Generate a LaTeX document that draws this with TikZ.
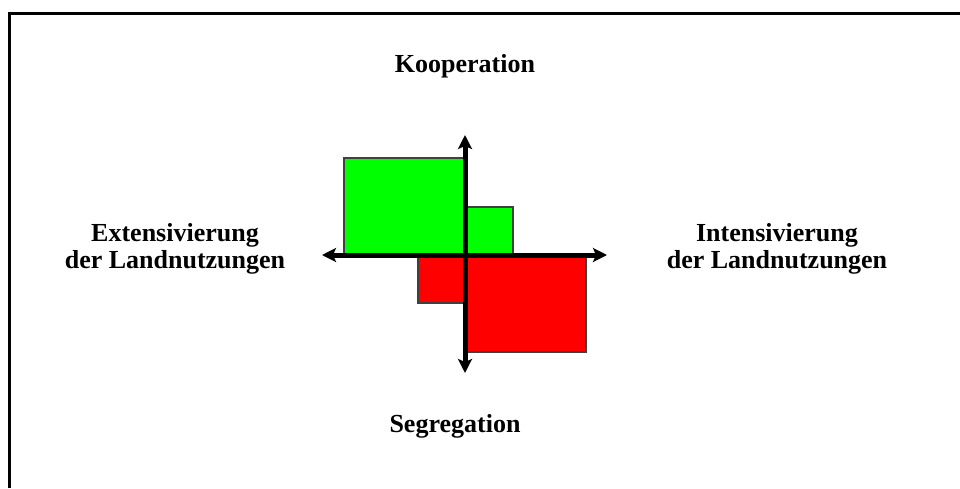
\documentclass[tikz,border=0pt]{standalone}
\usepackage{fontspec}
\setmainfont{Liberation Serif}
\usetikzlibrary{arrows.meta}
\definecolor{feldgruen}{RGB}{0,255,0}
\definecolor{feldrot}{RGB}{255,0,0}
\begin{document}
\begin{tikzpicture}[x=1pt,y=-1pt,
    achse/.style={line width=5pt,{Stealth[length=14pt,width=14pt,inset=3pt]}-{Stealth[length=14pt,width=14pt,inset=3pt]}},
    feld/.style={draw=black!75,line width=1.2pt},
    beschriftung/.style={font=\fontsize{26}{27}\selectfont\bfseries,inner sep=0pt,align=center}]
    \useasboundingbox (0,0) rectangle (960,488);
    % Rahmen (nur oben und links sichtbar)
    \draw[line width=3pt] (9,488)--(9,13)--(960,13);

    % Felder
    \filldraw[feld,fill=feldgruen] (344,158) rectangle (465,255);
    \filldraw[feld,fill=feldgruen] (465,207) rectangle (513,255);
    \filldraw[feld,fill=feldrot] (418,255) rectangle (465,303);
    \filldraw[feld,fill=feldrot] (465,255) rectangle (586,352);

    % Achsen
    \coordinate (links) at (322,255);
    \coordinate (rechts) at (607,255);
    \coordinate (oben) at (465,135);
    \coordinate (unten) at (465,373);
    \draw[achse] (links)--(rechts);
    \draw[achse] (unten)--(oben);

    \node[beschriftung,anchor=base] (koop) at (465,72) {Kooperation};
    \node[beschriftung,anchor=base] (segr) at (455,432) {Segregation};
    \node[beschriftung] (ext) at (175,249) {Extensivierung\\der Landnutzungen};
    \node[beschriftung] (int) at (777,249) {Intensivierung\\der Landnutzungen};
\end{tikzpicture}
\end{document}
